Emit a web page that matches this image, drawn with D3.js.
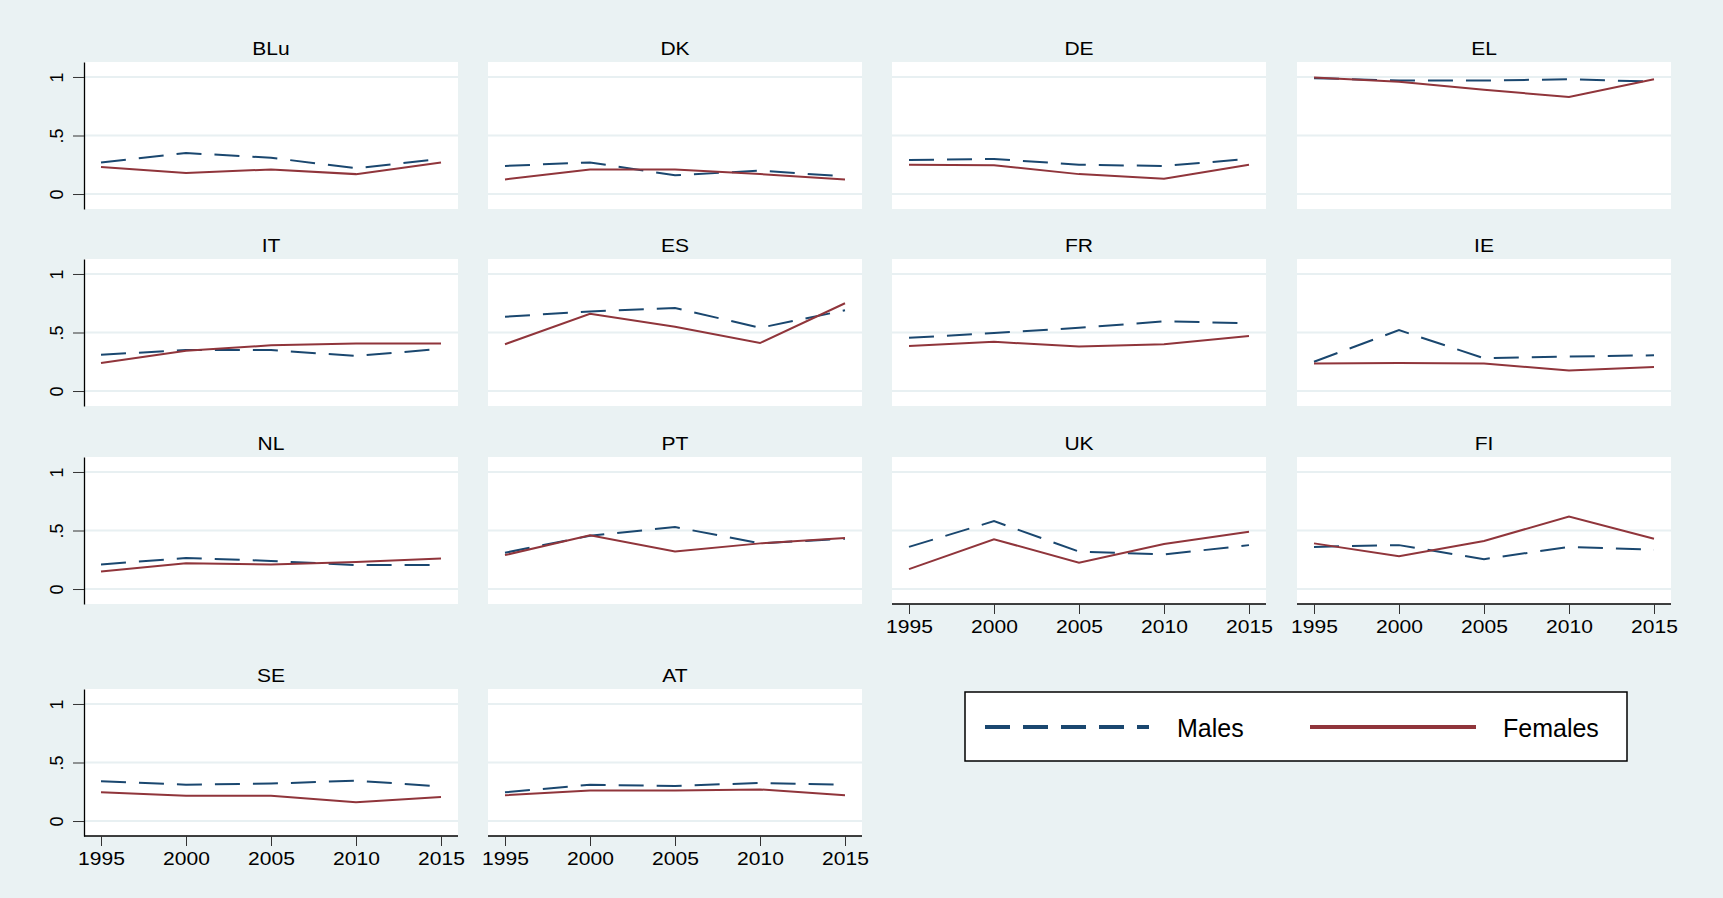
<!DOCTYPE html>
<html>
<head>
<meta charset="utf-8">
<script src="https://cdn.jsdelivr.net/npm/d3@7"></script>
<style>
  html, body { margin: 0; padding: 0; background: #eaf2f3; }
  svg { display: block; font-family: 'Liberation Sans', Arial, sans-serif; }
</style>
</head>
<body>
<div id="chart"></div>
<script>
// data
const years = [1995, 2000, 2005, 2010, 2015];
const countries = ['BLu', 'DK', 'DE', 'EL', 'IT', 'ES', 'FR', 'IE', 'NL', 'PT', 'UK', 'FI', 'SE', 'AT'];
const males = [
  [0.27, 0.35, 0.31, 0.22, 0.30],
  [0.24, 0.27, 0.16, 0.20, 0.15],
  [0.29, 0.30, 0.25, 0.24, 0.30],
  [0.99, 0.97, 0.97, 0.98, 0.96],
  [0.31, 0.35, 0.35, 0.30, 0.36],
  [0.635, 0.68, 0.71, 0.54, 0.69],
  [0.455, 0.495, 0.54, 0.595, 0.58],
  [0.25, 0.52, 0.28, 0.295, 0.305],
  [0.21, 0.265, 0.24, 0.205, 0.205],
  [0.31, 0.455, 0.53, 0.39, 0.43],
  [0.36, 0.58, 0.32, 0.295, 0.375],
  [0.36, 0.375, 0.255, 0.36, 0.335],
  [0.34, 0.31, 0.32, 0.345, 0.295],
  [0.245, 0.31, 0.30, 0.325, 0.31]
];
const females = [
  [0.23, 0.18, 0.21, 0.17, 0.27],
  [0.125, 0.21, 0.21, 0.17, 0.125],
  [0.25, 0.245, 0.17, 0.13, 0.25],
  [0.995, 0.96, 0.89, 0.83, 0.98],
  [0.24, 0.345, 0.39, 0.405, 0.405],
  [0.40, 0.66, 0.55, 0.41, 0.75],
  [0.385, 0.42, 0.38, 0.40, 0.47],
  [0.235, 0.24, 0.235, 0.175, 0.205],
  [0.15, 0.22, 0.21, 0.23, 0.26],
  [0.29, 0.46, 0.32, 0.39, 0.435],
  [0.17, 0.425, 0.225, 0.385, 0.49],
  [0.39, 0.28, 0.41, 0.62, 0.43],
  [0.245, 0.215, 0.215, 0.16, 0.205],
  [0.22, 0.26, 0.26, 0.27, 0.22]
];
const yTicks = [0, 0.5, 1];
const seriesNames = ['Males', 'Females'];

// layout
const width = 1723;
const height = 898;
const colLeft = [84, 488, 892, 1297];
const rowTop = [62, 259, 457, 689];
const panelW = 374;
const panelH = 147;
const xPad = 17;
const nCols = 4;

const maleColour = '#1a476f';
const femaleColour = '#90353b';
const gridColour = '#e8f0f2';
const dash = '25,13';
const textStretch = 1.17;

const svg = d3
  .select('#chart')
  .append('svg')
  .attr('width', width)
  .attr('height', height)
  .attr('viewBox', [0, 0, width, height]);

svg.append('rect').attr('width', width).attr('height', height).attr('fill', '#eaf2f3');

const y = d3.scaleLinear().domain([-0.128, 1.128]).range([panelH, 0]);
const x = d3
  .scaleLinear()
  .domain(d3.extent(years))
  .range([xPad, panelW - xPad]);

const line = d3
  .line()
  .x((d, i) => x(years[i]))
  .y((d) => y(d));

countries.forEach((name, idx) => {
  const col = idx % nCols;
  const row = Math.floor(idx / nCols);
  const g = svg
    .append('g')
    .attr('transform', `translate(${colLeft[col]},${rowTop[row]})`);

  // plot region
  g.append('rect').attr('width', panelW).attr('height', panelH).attr('fill', 'white');

  // gridlines
  g.append('g')
    .selectAll('line')
    .data(yTicks)
    .join('line')
    .attr('x1', 0)
    .attr('x2', panelW)
    .attr('y1', (d) => y(d))
    .attr('y2', (d) => y(d))
    .attr('stroke', gridColour)
    .attr('stroke-width', 2);

  // title
  g.append('text')
    .attr('transform', `translate(${panelW / 2},-7) scale(${textStretch},1)`)
    .attr('text-anchor', 'middle')
    .attr('font-size', 18)
    .attr('fill', 'black')
    .text(name);

  // series
  g.append('path')
    .datum(males[idx])
    .attr('d', line)
    .attr('fill', 'none')
    .attr('stroke', maleColour)
    .attr('stroke-width', 2)
    .attr('stroke-dasharray', dash);

  g.append('path')
    .datum(females[idx])
    .attr('d', line)
    .attr('fill', 'none')
    .attr('stroke', femaleColour)
    .attr('stroke-width', 2);

  // y axis on first column only
  if (col === 0) {
    g.append('g')
      .call(
        d3
          .axisLeft(y)
          .tickValues(yTicks)
          .tickSize(11)
          .tickSizeOuter(0)
          .tickFormat((d) => (d === 0.5 ? '.5' : d))
      )
      .call((a) => a.select('.domain').attr('stroke', 'black').attr('stroke-width', 1.3))
      .call((a) => a.selectAll('.tick line').attr('stroke', '#333'))
      .call((a) =>
        a
          .selectAll('.tick text')
          .attr('transform', 'rotate(-90)')
          .attr('x', 0)
          .attr('y', -21)
          .attr('dy', 0)
          .attr('text-anchor', 'middle')
          .attr('font-size', 18)
          .attr('fill', 'black')
      );
  }

  // x axis where nothing sits below
  if (idx + nCols >= countries.length) {
    g.append('line')
      .attr('x1', 0)
      .attr('x2', panelW)
      .attr('y1', panelH)
      .attr('y2', panelH)
      .attr('stroke', 'black')
      .attr('stroke-width', 1.3);
    g.append('g')
      .attr('transform', `translate(0,${panelH})`)
      .call(d3.axisBottom(x).tickValues(years).tickSize(10).tickSizeOuter(0).tickFormat(d3.format('d')))
      .call((a) => a.select('.domain').remove())
      .call((a) => a.selectAll('.tick line').attr('stroke', '#333'))
      .call((a) =>
        a
          .selectAll('.tick text')
          .attr('y', 29)
          .attr('dy', 0)
          .attr('transform', `scale(${textStretch},1)`)
          .attr('font-size', 18)
          .attr('fill', 'black')
      );
  }
});

// legend
const legend = svg.append('g').attr('transform', 'translate(965,692)');
legend
  .append('rect')
  .attr('width', 662)
  .attr('height', 69)
  .attr('fill', 'white')
  .attr('stroke', 'black')
  .attr('stroke-width', 1.5);

const legendItems = [
  { name: seriesNames[0], colour: maleColour, dash: dash, x0: 20, x1: 184, tx: 212 },
  { name: seriesNames[1], colour: femaleColour, dash: null, x0: 345, x1: 511, tx: 538 }
];
legendItems.forEach((d) => {
  legend
    .append('line')
    .attr('x1', d.x0)
    .attr('x2', d.x1)
    .attr('y1', 35)
    .attr('y2', 35)
    .attr('stroke', d.colour)
    .attr('stroke-width', 4)
    .attr('stroke-dasharray', d.dash);
  legend
    .append('text')
    .attr('x', d.tx)
    .attr('y', 45)
    .attr('font-size', 25)
    .attr('fill', 'black')
    .text(d.name);
});
</script>
</body>
</html>
